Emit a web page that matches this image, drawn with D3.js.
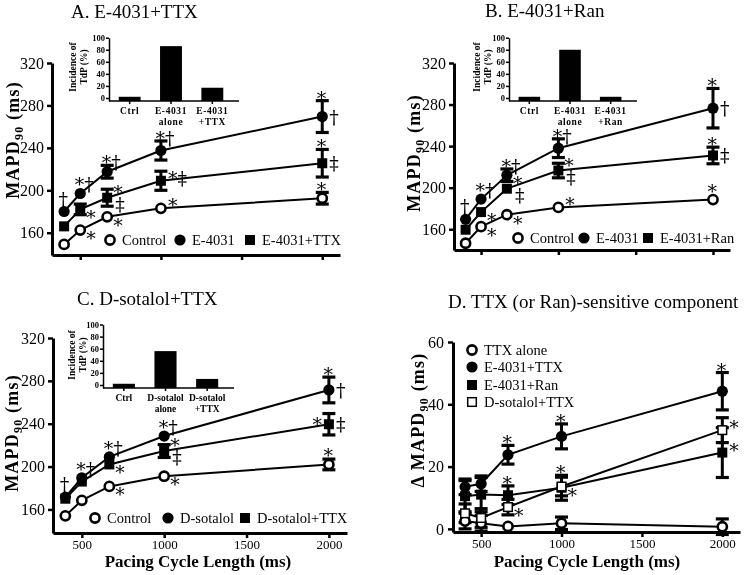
<!DOCTYPE html>
<html><head><meta charset="utf-8">
<script src="https://cdn.jsdelivr.net/npm/d3@7"></script>
<style>
body{margin:0;background:#fff}
svg{font-family:"Liberation Serif","Times New Roman",serif;opacity:0.999;will-change:opacity}
</style>
</head><body>
<svg id="c" width="750" height="575"></svg>
<script>
// ---------------- DATA ----------------
const cycleLengths = [400, 500, 667, 1000, 2000];
const xTickValues = [500, 1000, 1500, 2000];
const mainYTicks = [160, 200, 240, 280, 320];
const deltaYTicks = [0, 20, 40, 60];
const insetYTicks = [0, 20, 40, 60, 80, 100];

// Panel A: E-4031 + TTX
const aControl = [149, 162.5, 175, 183, 192.5];
const aControlErr = [2, 2, 3, 4.5, 5.5];
const aE4031 = [180, 197, 217.5, 237.5, 269.5];
const aE4031Err = [3, 3, 6, 9, 15];
const aE4031TTX = [166, 182, 193, 209, 225.5];
const aE4031TTXErr = [3, 5, 8, 9, 13];
const aInsetCats = ["Ctrl|", "E-4031|alone", "E-4031|+TTX"];
const aInsetTdP = [2, 86, 17];

// Panel B: E-4031 + Ranolazine
const bControl = [146.5, 162.5, 174, 181, 188.5];
const bControlErr = [2, 2, 3, 3, 4];
const bE4031 = [169.5, 189, 212, 238, 276.5];
const bE4031Err = [3, 3, 6, 9, 19];
const bE4031Ran = [159.5, 176.5, 199, 216.5, 231];
const bE4031RanErr = [3, 3, 4, 7, 8];
const bInsetCats = ["Ctrl|", "E-4031|alone", "E-4031|+Ran"];
const bInsetTdP = [2, 80, 2];

// Panel C: D-sotalol + TTX
const cControl = [154, 168.5, 181.5, 191, 202];
const cControlErr = [2, 2, 3, 3, 5];
const cDsotalol = [171.5, 189.5, 209, 228.5, 271.5];
const cDsotalolErr = [3, 3, 4, 4, 12];
const cDsotalolTTX = [170, 186, 202, 214.5, 239.5];
const cDsotalolTTXErr = [3, 3, 4, 6, 10];
const cInsetCats = ["Ctrl|", "D-sotalol|alone", "D-sotalol|+TTX"];
const cInsetTdP = [2, 56, 10];

// Panel D: TTX (or Ran)-sensitive component (delta MAPD90)
const dTTXalone = [2.5, 1.8, 0.8, 1.8, 0.7];
const dTTXaloneErr = [2.5, 2.5, 1.5, 2, 2.5];
const dE4031TTX = [13.5, 14.5, 23.8, 29.7, 44.2];
const dE4031TTXErr = [2.5, 2.5, 3, 4, 6];
const dE4031Ran = [10.5, 11, 10.8, 13.2, 24.5];
const dE4031RanErr = [5, 5.5, 3, 4, 8];
const dDsotalolTTX = [5, 3.5, 7, 13.6, 31.7];
const dDsotalolTTXErr = [3, 3, 2.5, 3, 4];

// Significance markers: [series key, cycle length, text, placement]
const aSig = [
  ["E", 400, "†", "top"], ["E", 500, "*†", "top"], ["E", 667, "*†", "top"], ["E", 1000, "*†", "top"],
  ["E", 2000, "*", "top"], ["E", 2000, "†", "right"],
  ["T", 500, "*", "lowRight"], ["T", 667, "*", "upRight"], ["T", 667, "‡", "rightLow"],
  ["T", 1000, "*‡", "right"], ["T", 2000, "*", "top"], ["T", 2000, "‡", "right"],
  ["C", 500, "*", "lowRight"], ["C", 667, "*", "lowRight"], ["C", 1000, "*", "right"], ["C", 2000, "*", "top"]
];
const bSig = [
  ["E", 400, "†", "top"], ["E", 500, "*†", "top"], ["E", 667, "*†", "top"], ["E", 1000, "*†", "top"],
  ["E", 2000, "*", "top"], ["E", 2000, "†", "right"],
  ["T", 500, "*", "lowRight"], ["T", 667, "*", "upRight"], ["T", 667, "‡", "rightLow"],
  ["T", 1000, "*", "upRight"], ["T", 1000, "‡", "rightLow"], ["T", 2000, "*", "top"], ["T", 2000, "‡", "right"],
  ["C", 500, "*", "lowRight"], ["C", 667, "*", "lowRight"], ["C", 1000, "*", "right"], ["C", 2000, "*", "top"]
];
const cSig = [
  ["E", 400, "†", "top"], ["E", 500, "*†", "top"], ["E", 667, "*†", "top"], ["E", 1000, "*†", "top"],
  ["E", 2000, "*", "top"], ["E", 2000, "†", "right"],
  ["T", 667, "*", "lowRight"], ["T", 1000, "*", "upRight"], ["T", 1000, "‡", "rightLow"],
  ["T", 2000, "*", "left"], ["T", 2000, "‡", "right"],
  ["C", 667, "*", "lowRight"], ["C", 1000, "*", "lowRight"], ["C", 2000, "*", "top"]
];
const dSig = [
  ["E", 667, "*", "top"], ["E", 1000, "*", "top"], ["E", 2000, "*", "top"],
  ["R", 667, "*", "top"], ["R", 1000, "*", "top"], ["R", 2000, "*", "right"],
  ["S", 667, "*", "lowRight"], ["S", 1000, "*", "lowRight"], ["S", 2000, "*", "right"]
];

// ---------------- DRAWING ----------------
const svg = d3.select("#c");
const X_DOMAIN = [325, 2110];
const SYM_FONT = '"DejaVu Serif", serif';

function drawMarker(g, type, cx, cy) {
  if (type === "circleOpen") {
    g.append("circle").attr("cx", cx).attr("cy", cy).attr("r", 4.6)
      .attr("fill", "#fff").attr("stroke", "#000").attr("stroke-width", 2.6);
  } else if (type === "circle") {
    g.append("circle").attr("cx", cx).attr("cy", cy).attr("r", 5.6).attr("fill", "#000");
  } else if (type === "square") {
    g.append("rect").attr("x", cx - 5).attr("y", cy - 5).attr("width", 10).attr("height", 10).attr("fill", "#000");
  } else if (type === "squareOpen") {
    g.append("rect").attr("x", cx - 4.3).attr("y", cy - 4.3).attr("width", 8.6).attr("height", 8.6)
      .attr("fill", "#fff").attr("stroke", "#000").attr("stroke-width", 1.5);
  }
}

function styleAxis(sel, fs) {
  sel.select(".domain").attr("stroke-width", 3).attr("stroke", "#000");
  sel.selectAll(".tick line").attr("stroke-width", 2.5).attr("stroke", "#000");
  sel.selectAll(".tick text").attr("font-size", fs).attr("fill", "#000")
    .attr("font-family", '"Liberation Serif","Times New Roman",serif');
}

function panel(cfg) {
  const g = svg.append("g");
  const x = d3.scaleLinear().domain(X_DOMAIN).range(cfg.xr);
  const y = d3.scaleLinear().domain(cfg.yd).range(cfg.yr);

  // title
  g.append("text").attr("x", cfg.title[1]).attr("y", cfg.title[2]).attr("font-size", 19).text(cfg.title[0]);

  // axes
  const xa = g.append("g").attr("transform", `translate(0,${cfg.yr[0]})`)
    .call(d3.axisBottom(x).tickValues(xTickValues).tickSizeInner(5).tickSizeOuter(0).tickPadding(2)
      .tickFormat(cfg.xLabels ? d3.format("d") : () => ""));
  styleAxis(xa, 13);
  const ya = g.append("g").attr("transform", `translate(${cfg.xr[0]},0)`)
    .call(d3.axisLeft(y).tickValues(cfg.yTicks).tickSizeInner(5).tickSizeOuter(0).tickPadding(cfg.yPad));
  styleAxis(ya, 16);

  // axis titles
  const yt = g.append("text").attr("transform", `translate(${cfg.yTitle[0]},${cfg.yTitle[1]}) rotate(-90)`)
    .attr("text-anchor", "middle").attr("font-weight", "bold").attr("font-size", 18).attr("letter-spacing", 1.2);
  yt.append("tspan").text(cfg.yTitlePrefix + "MAPD");
  yt.append("tspan").attr("font-size", 12).attr("dy", 4).text("90");
  yt.append("tspan").attr("dy", -4).text(" (ms)");
  if (cfg.xLabels) {
    g.append("text").attr("x", cfg.xTitle[0]).attr("y", cfg.xTitle[1]).attr("text-anchor", "middle")
      .attr("font-weight", "bold").attr("font-size", 17).text("Pacing Cycle Length (ms)");
  }

  const pts = s => cycleLengths.map((c, i) => ({ c, v: s.values[i], e: s.errs[i] }));
  // lines
  cfg.series.forEach(s => {
    g.append("path").datum(pts(s))
      .attr("d", d3.line().x(d => x(d.c)).y(d => y(d.v)))
      .attr("fill", "none").attr("stroke", "#000").attr("stroke-width", 2);
  });
  // error bars
  cfg.series.forEach(s => {
    pts(s).forEach(d => {
      const y0 = y(d.v + d.e), y1 = y(d.v - d.e), cx = x(d.c);
      if (y1 - y0 < 10) return;
      g.append("line").attr("x1", cx).attr("x2", cx).attr("y1", y0).attr("y2", y1)
        .attr("stroke", "#000").attr("stroke-width", 3);
      [y0, y1].forEach(yy => g.append("line").attr("x1", cx - 6.5).attr("x2", cx + 6.5)
        .attr("y1", yy).attr("y2", yy).attr("stroke", "#000").attr("stroke-width", 3.2));
    });
  });
  // markers
  cfg.series.forEach(s => {
    pts(s).forEach(d => drawMarker(g, s.marker, x(d.c), y(d.v)));
  });

  // significance symbols
  cfg.sig.forEach(([key, c, txt, pos]) => {
    const s = cfg.series.find(q => q.key === key);
    const i = cycleLengths.indexOf(c);
    const px = x(c), py = y(s.values[i]);
    const top = Math.min(y(s.values[i] + s.errs[i]), py - 6);
    const starFirst = txt[0] === "*";
    let tx, ty, anchor = "start";
    if (pos === "top") { tx = px - 5.5; ty = top + (starFirst ? 4 : 0); }
    else if (pos === "right") { tx = px + 7; ty = py + (starFirst ? 4 : 7); }
    else if (pos === "upRight") { tx = px + 6; ty = py + 1; }
    else if (pos === "lowRight") { tx = px + 6; ty = py + 15; }
    else if (pos === "rightLow") { tx = px + 8; ty = py + 13; }
    else if (pos === "left") { tx = px - 7; ty = py + 7; anchor = "end"; }
    g.append("text").attr("x", tx).attr("y", ty).attr("text-anchor", anchor)
      .attr("font-family", SYM_FONT).attr("fill", "#000").attr("font-size", 19).text(txt);
  });

  // legend
  cfg.legend.items.forEach((it, i) => {
    const lx = cfg.legend.vertical ? cfg.legend.x : cfg.legend.xs[i];
    const ly = cfg.legend.vertical ? cfg.legend.ys[i] : cfg.legend.y;
    drawMarker(g, it[1], lx, ly);
    g.append("text").attr("x", lx + 12).attr("y", ly).attr("dy", "0.35em")
      .attr("font-size", 14.5).text(it[0]);
  });

  // inset bar chart
  if (cfg.inset) {
    const ins = cfg.inset;
    const ig = g.append("g");
    const bx = d3.scaleBand().domain(ins.cats).range(ins.xr).paddingInner(0.47).paddingOuter(0.235);
    const by = d3.scaleLinear().domain([-5, 100]).range(ins.yr);
    ig.selectAll("rect.bar").data(ins.vals).join("rect")
      .attr("x", (d, i) => bx(ins.cats[i])).attr("width", bx.bandwidth())
      .attr("y", d => by(d)).attr("height", d => by(-5) - by(d)).attr("fill", "#000");
    const iya = ig.append("g").attr("transform", `translate(${ins.xr[0]},0)`)
      .call(d3.axisLeft(by).tickValues(insetYTicks).tickSizeInner(3).tickSizeOuter(0).tickPadding(1));
    iya.select(".domain").attr("stroke-width", 1.5);
    iya.selectAll(".tick line").attr("stroke-width", 1.5);
    iya.selectAll(".tick text").attr("font-size", 8.5).attr("font-weight", "bold")
      .attr("font-family", '"Liberation Serif",serif');
    const ixa = ig.append("g").attr("transform", `translate(0,${ins.yr[0]})`)
      .call(d3.axisBottom(bx).tickSizeInner(3).tickSizeOuter(0).tickFormat(() => ""));
    ixa.select(".domain").attr("stroke-width", 1.5).attr("d", `M${ins.xr[0]},0H${ins.xr[1] + 6}`);
    ixa.selectAll(".tick line").attr("stroke-width", 1.5);
    ins.cats.forEach(c => {
      const cx = bx(c) + bx.bandwidth() / 2;
      const lines = c.split("|");
      lines.forEach((ln, j) => {
        if (!ln) return;
        ig.append("text").attr("x", cx).attr("y", ins.yr[0] + 13 + j * 11).attr("text-anchor", "middle")
          .attr("font-size", 9.5).attr("font-weight", "bold").attr("letter-spacing", ins.ls).text(ln);
      });
    });
    const t = ig.append("text").attr("transform", `translate(${ins.ytx},${ins.ytY}) rotate(-90)`)
      .attr("text-anchor", "middle").attr("font-size", 9.5).attr("font-weight", "bold");
    t.append("tspan").attr("x", 0).attr("y", 0).text("Incidence of");
    t.append("tspan").attr("x", 0).attr("y", 11).text("TdP (%)");
  }
}

const legend3 = (a, b, c) => [[a, "circleOpen"], [b, "circle"], [c, "square"]];

panel({
  title: ["A. E-4031+TTX", 71, 18],
  xr: [52, 340], yd: [139, 320], yr: [255, 63], yTicks: mainYTicks, yPad: 3,
  yTitle: [19, 140], yTitlePrefix: "", xLabels: false,
  series: [
    { key: "C", values: aControl, errs: aControlErr, marker: "circleOpen" },
    { key: "E", values: aE4031, errs: aE4031Err, marker: "circle" },
    { key: "T", values: aE4031TTX, errs: aE4031TTXErr, marker: "square" }
  ],
  sig: aSig,
  legend: { items: legend3("Control", "E-4031", "E-4031+TTX"), xs: [110, 180, 250], y: 240 },
  inset: { cats: aInsetCats, vals: aInsetTdP, xr: [109, 233], yr: [101, 37.7], ytx: 76, ytY: 67, ls: 0.6 }
});

panel({
  title: ["B. E-4031+Ran", 485, 17],
  xr: [454, 730], yd: [140, 320], yr: [250, 63], yTicks: mainYTicks, yPad: 3,
  yTitle: [420, 153], yTitlePrefix: "", xLabels: false,
  series: [
    { key: "C", values: bControl, errs: bControlErr, marker: "circleOpen" },
    { key: "E", values: bE4031, errs: bE4031Err, marker: "circle" },
    { key: "T", values: bE4031Ran, errs: bE4031RanErr, marker: "square" }
  ],
  sig: bSig,
  legend: { items: legend3("Control", "E-4031", "E-4031+Ran"), xs: [518, 584, 648], y: 238 },
  inset: { cats: bInsetCats, vals: bInsetTdP, xr: [509, 631], yr: [101, 37.7], ytx: 480, ytY: 67, ls: 0.6 }
});

panel({
  title: ["C. D-sotalol+TTX", 77, 305],
  xr: [53, 347], yd: [138, 320], yr: [533, 338], yTicks: mainYTicks, yPad: 3,
  yTitle: [18, 433], yTitlePrefix: "", xLabels: true, xTitle: [198, 567],
  series: [
    { key: "C", values: cControl, errs: cControlErr, marker: "circleOpen" },
    { key: "E", values: cDsotalol, errs: cDsotalolErr, marker: "circle" },
    { key: "T", values: cDsotalolTTX, errs: cDsotalolTTXErr, marker: "square" }
  ],
  sig: cSig,
  legend: { items: legend3("Control", "D-sotalol", "D-sotalol+TTX"), xs: [95, 168, 245], y: 518 },
  inset: { cats: cInsetCats, vals: cInsetTdP, xr: [103, 228], yr: [388, 324.5], ytx: 75, ytY: 355, ls: 0 }
});

panel({
  title: ["D. TTX (or Ran)-sensitive component", 448, 308],
  xr: [453, 740], yd: [-1, 60], yr: [532, 342], yTicks: deltaYTicks, yPad: 4,
  yTitle: [424, 420], yTitlePrefix: "Δ ", xLabels: true, xTitle: [587, 567],
  series: [
    { key: "A", values: dTTXalone, errs: dTTXaloneErr, marker: "circleOpen" },
    { key: "E", values: dE4031TTX, errs: dE4031TTXErr, marker: "circle" },
    { key: "R", values: dE4031Ran, errs: dE4031RanErr, marker: "square" },
    { key: "S", values: dDsotalolTTX, errs: dDsotalolTTXErr, marker: "squareOpen" }
  ],
  sig: dSig,
  legend: {
    vertical: true, x: 472, ys: [350, 367, 385, 402],
    items: [["TTX alone", "circleOpen"], ["E-4031+TTX", "circle"], ["E-4031+Ran", "square"], ["D-sotalol+TTX", "squareOpen"]]
  }
});
</script>
</body></html>
